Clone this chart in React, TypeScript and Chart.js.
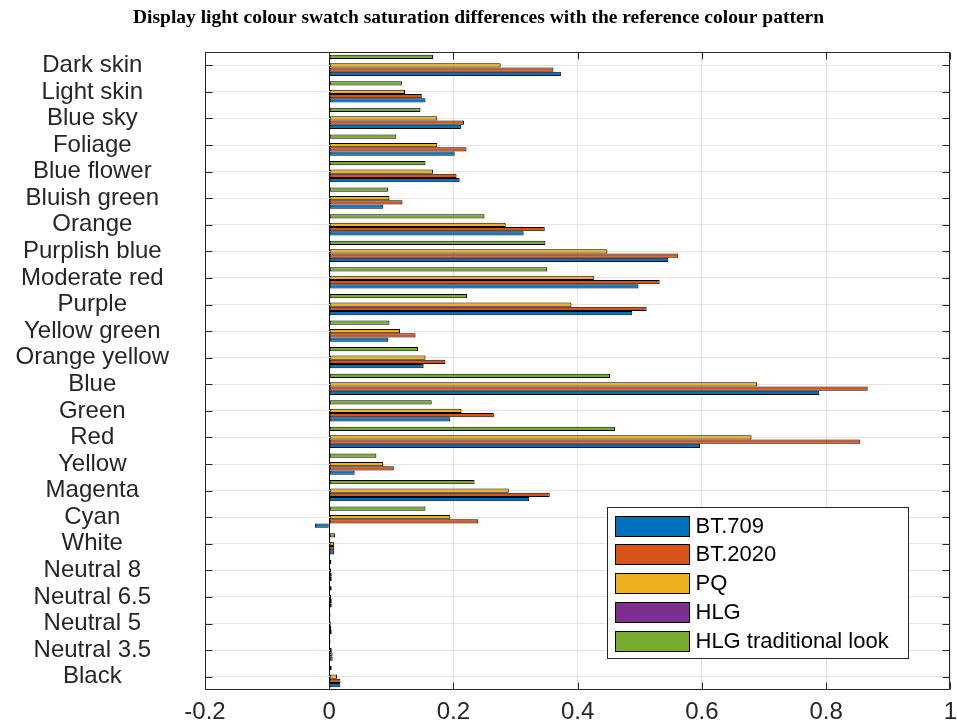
import React, { useEffect, useRef } from 'react';
import { Chart, registerables } from 'chart.js';

Chart.register(...registerables);

const chartTitle = 'Display light colour swatch saturation differences with the reference colour pattern';

const categories = [
  'Dark skin', 'Light skin', 'Blue sky', 'Foliage', 'Blue flower', 'Bluish green',
  'Orange', 'Purplish blue', 'Moderate red', 'Purple', 'Yellow green', 'Orange yellow',
  'Blue', 'Green', 'Red', 'Yellow', 'Magenta', 'Cyan', 'White', 'Neutral 8',
  'Neutral 6.5', 'Neutral 5', 'Neutral 3.5', 'Black',
];

const bt709 = [0.373, 0.155, 0.212, 0.202, 0.210, 0.087, 0.313, 0.546, 0.498, 0.488, 0.095, 0.152,
  0.789, 0.195, 0.597, 0.041, 0.322, -0.023, 0.008, 0.004, 0.004, 0.004, 0.0055, 0.018];
const bt2020 = [0.361, 0.149, 0.217, 0.221, 0.205, 0.118, 0.347, 0.562, 0.532, 0.511, 0.139, 0.187,
  0.867, 0.265, 0.855, 0.104, 0.355, 0.240, 0.008, 0.004, 0.004, 0.003, 0.0055, 0.018];
const pq = [0.276, 0.122, 0.174, 0.174, 0.167, 0.097, 0.284, 0.448, 0.426, 0.390, 0.114, 0.155,
  0.689, 0.213, 0.680, 0.087, 0.289, 0.195, 0.0075, 0.003, 0.003, 0.0025, 0.004, 0.0125];
const hlg = [null, null, null, null, null, null, null, null, null, null, null, null,
  null, null, null, null, null, null, null, null, null, null, null, null];
const hlgTraditional = [0.167, 0.117, 0.147, 0.108, 0.155, 0.095, 0.250, 0.348, 0.351, 0.222, 0.097, 0.143,
  0.452, 0.165, 0.460, 0.076, 0.234, 0.155, 0.0095, 0.0035, 0.004, 0.002, 0.002, 0.004];

const seriesNames = ['BT.709', 'BT.2020', 'PQ', 'HLG', 'HLG traditional look'];
const seriesColors = ['#0072BD', '#D95319', '#EDB120', '#7E2F8E', '#77AC30'];
const seriesData = [bt709, bt2020, pq, hlg, hlgTraditional];

const xTickValues = [-0.2, 0, 0.2, 0.4, 0.6, 0.8, 1];
const xTickLabels = ['-0.2', '0', '0.2', '0.4', '0.6', '0.8', '1'];

const AXIS_COLOR = '#262626';
const FONT = "'Liberation Sans', Arial, sans-serif";

const framePlugin = {
  id: 'frameAndLegend',
  afterDatasetsDraw(chart: any) {
    const { ctx, chartArea: a, scales } = chart;
    const xs = scales.x;
    const ys = scales.y;
    const L = Math.round(a.left) + 0.5;
    const R = Math.round(a.right) - 0.5;
    const T = Math.round(a.top) + 0.5;
    const B = Math.round(a.bottom) - 0.5;
    const tl = 7;
    ctx.save();
    ctx.strokeStyle = AXIS_COLOR;
    ctx.lineWidth = 1;
    ctx.beginPath();
    ctx.rect(L, T, R - L, B - T);
    for (let i = 0; i < categories.length; i++) {
      const py = Math.round(ys.getPixelForTick(i)) + 0.5;
      ctx.moveTo(L, py); ctx.lineTo(L + tl, py);
      ctx.moveTo(R, py); ctx.lineTo(R - tl, py);
    }
    for (const v of xTickValues) {
      const px = Math.round(xs.getPixelForValue(v)) + 0.5;
      ctx.moveTo(px, B); ctx.lineTo(px, B - tl);
      ctx.moveTo(px, T); ctx.lineTo(px, T + tl);
    }
    ctx.stroke();

    // legend box
    const lw = 301;
    const lh = 151;
    const lx = Math.round(a.right - 42 - lw) + 0.5;
    const ly = Math.round(a.bottom - 32 - lh) + 0.5;
    ctx.fillStyle = '#ffffff';
    ctx.fillRect(lx, ly, lw, lh);
    ctx.strokeStyle = AXIS_COLOR;
    ctx.strokeRect(lx, ly, lw, lh);
    ctx.font = `22px ${FONT}`;
    ctx.textBaseline = 'middle';
    ctx.textAlign = 'left';
    for (let i = 0; i < seriesNames.length; i++) {
      const cy = ly + 18 + i * 28.8;
      const sy = Math.round(cy - 10) + 0.5;
      ctx.fillStyle = seriesColors[i];
      ctx.fillRect(lx + 8, sy, 74, 20);
      ctx.strokeStyle = '#000000';
      ctx.strokeRect(lx + 8, sy, 74, 20);
      ctx.fillStyle = '#000000';
      ctx.fillText(seriesNames[i], lx + 88, cy + 1);
    }
    ctx.restore();
  },
};

export default function App() {
  const ref = useRef<HTMLCanvasElement | null>(null);

  useEffect(() => {
    if (!ref.current) return;
    const order = [4, 3, 2, 1, 0];
    const chart = new Chart(ref.current, {
      type: 'bar',
      data: {
        labels: categories,
        datasets: order.map((i) => ({
          label: seriesNames[i],
          data: seriesData[i] as any,
          backgroundColor: seriesColors[i],
          borderColor: '#000000',
          borderWidth: 1,
          borderSkipped: false,
          categoryPercentage: 0.8,
          barPercentage: 1.0,
        })),
      },
      options: {
        indexAxis: 'y',
        responsive: false,
        animation: false,
        devicePixelRatio: 1,
        layout: { padding: { left: 0, right: 0, top: 0, bottom: 0 } },
        plugins: {
          legend: { display: false },
          tooltip: { enabled: false },
          title: {
            display: true,
            text: chartTitle,
            color: '#000000',
            font: { family: "'Liberation Serif', 'Times New Roman', serif", size: 19.5, weight: 'bold', lineHeight: 1.2 },
            padding: { top: 6.5, bottom: 22.1 },
          },
        },
        scales: {
          x: {
            type: 'linear',
            min: -0.2,
            max: 1,
            afterBuildTicks: (scale: any) => {
              scale.ticks = xTickValues.map((v) => ({ value: v }));
            },
            afterFit: (scale: any) => {
              scale.height = 37;
            },
            grid: {
              color: (c: any) => (c.tick && Math.abs(c.tick.value) < 1e-9 ? '#000000' : '#e3e3e3'),
              drawTicks: true,
              tickLength: 8,
              tickColor: 'rgba(0,0,0,0)',
            },
            border: { display: false },
            ticks: {
              color: AXIS_COLOR,
              font: { family: FONT, size: 24 },
              padding: 0,
              maxRotation: 0,
              autoSkip: false,
              callback: (_v: any, i: number) => xTickLabels[i],
            },
          },
          y: {
            type: 'category',
            offset: true,
            afterFit: (scale: any) => {
              scale.width = 205;
            },
            grid: {
              color: '#e3e3e3',
              offset: false,
              drawTicks: true,
              tickLength: 36,
              tickColor: 'rgba(0,0,0,0)',
            },
            border: { display: false },
            ticks: {
              color: AXIS_COLOR,
              font: { family: FONT, size: 24 },
              crossAlign: 'center',
              padding: 0,
              autoSkip: false,
            },
          },
        },
      },
      plugins: [framePlugin],
    });
    return () => chart.destroy();
  }, []);

  return (
    <div style={{ position: 'absolute', left: 0, top: 0, width: 957, height: 727, background: '#ffffff' }}>
      <canvas ref={ref} width={957} height={727} />
    </div>
  );
}
